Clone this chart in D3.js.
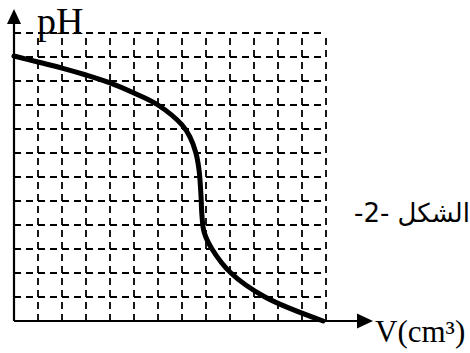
<!DOCTYPE html>
<html>
<head>
<meta charset="utf-8">
<script src="https://cdn.jsdelivr.net/npm/d3@7"></script>
<style>
  body { margin: 0; background: #fff; }
  svg { display: block; }
</style>
</head>
<body>
<div class="chart"></div>
<script>
// titration curve, read in grid squares (x: 13 squares, y: 12 squares)
var volume = [0, 1, 2, 3, 4, 5, 6, 7, 7.33, 7.58, 7.71, 7.79, 7.83, 7.92, 8.25, 9.04, 10.46, 12.88];
var ph     = [11.04, 10.79, 10.54, 10.25, 9.92, 9.5, 9.0, 8.17, 7.67, 7.0, 6.29, 5.25, 4.42, 3.71, 3.0, 2.0, 1.0, 0];
var xCells = d3.range(1, 14);
var yCells = d3.range(1, 13);
var yLabel = "pH";
var xLabel = "V(cm³)";
var figLabel = "الشكل -2-";

var width = 470, height = 353;
var marginLeft = 14, marginTop = 33, plotW = 312, plotH = 288;

var svg = d3.select('.chart')
  .append('svg')
  .attr("width", width)
  .attr("height", height);

var xScale = d3.scaleLinear().domain([0, 13]).range([marginLeft, marginLeft + plotW]);
var yScale = d3.scaleLinear().domain([0, 12]).range([marginTop + plotH, marginTop]);

// dashed grid
var grid = svg.append("g")
  .attr("stroke", "#000")
  .attr("stroke-width", 1.8)
  .attr("stroke-dasharray", "7,5");

grid.selectAll(".vline")
  .data(xCells)
  .enter()
  .append("line")
  .attr("class", "vline")
  .attr("x1", function(d) { return xScale(d); })
  .attr("x2", function(d) { return xScale(d); })
  .attr("y1", yScale(0))
  .attr("y2", yScale(12));

grid.selectAll(".hline")
  .data(yCells)
  .enter()
  .append("line")
  .attr("class", "hline")
  .attr("x1", xScale(0))
  .attr("x2", xScale(13))
  .attr("y1", function(d) { return yScale(d); })
  .attr("y2", function(d) { return yScale(d); });

// axes with arrows
var axes = svg.append("g").attr("stroke", "#000").attr("stroke-width", 2.2);
axes.append("line")
  .attr("x1", xScale(0)).attr("x2", 360)
  .attr("y1", yScale(0)).attr("y2", yScale(0));
axes.append("line")
  .attr("x1", xScale(0)).attr("x2", xScale(0))
  .attr("y1", yScale(0)).attr("y2", 20);

svg.append("path")
  .attr("d", "M" + (xScale(0)) + ",9 L" + (xScale(0) - 7) + ",24 L" + (xScale(0) + 7) + ",24 Z")
  .attr("fill", "#000");
svg.append("path")
  .attr("d", "M373," + yScale(0) + " L357," + (yScale(0) - 7.5) + " L357," + (yScale(0) + 7.5) + " Z")
  .attr("fill", "#000");

// curve
var pts = volume.map(function(v, i) { return [v, ph[i]]; });
var line = d3.line()
  .x(function(d) { return xScale(d[0]); })
  .y(function(d) { return yScale(d[1]); })
  .curve(d3.curveCatmullRom.alpha(0.5));

svg.append("path")
  .attr("d", line(pts))
  .attr("fill", "none")
  .attr("stroke", "#000")
  .attr("stroke-width", 5)
  .attr("stroke-linecap", "round");

// labels
svg.append("text")
  .attr("x", 37).attr("y", 34)
  .style("font-family", "'Liberation Serif', 'Times New Roman', serif")
  .style("font-size", "38px")
  .text(yLabel);

svg.append("text")
  .attr("x", 375).attr("y", 342)
  .style("font-family", "'Liberation Serif', 'Times New Roman', serif")
  .style("font-size", "31px")
  .text(xLabel);

svg.append("text")
  .attr("x", 470).attr("y", 222)
  .attr("direction", "rtl")
  .attr("text-anchor", "start")
  .style("font-family", "'DejaVu Sans', sans-serif")
  .style("font-size", "26px")
  .text(figLabel);
</script>
</body>
</html>
